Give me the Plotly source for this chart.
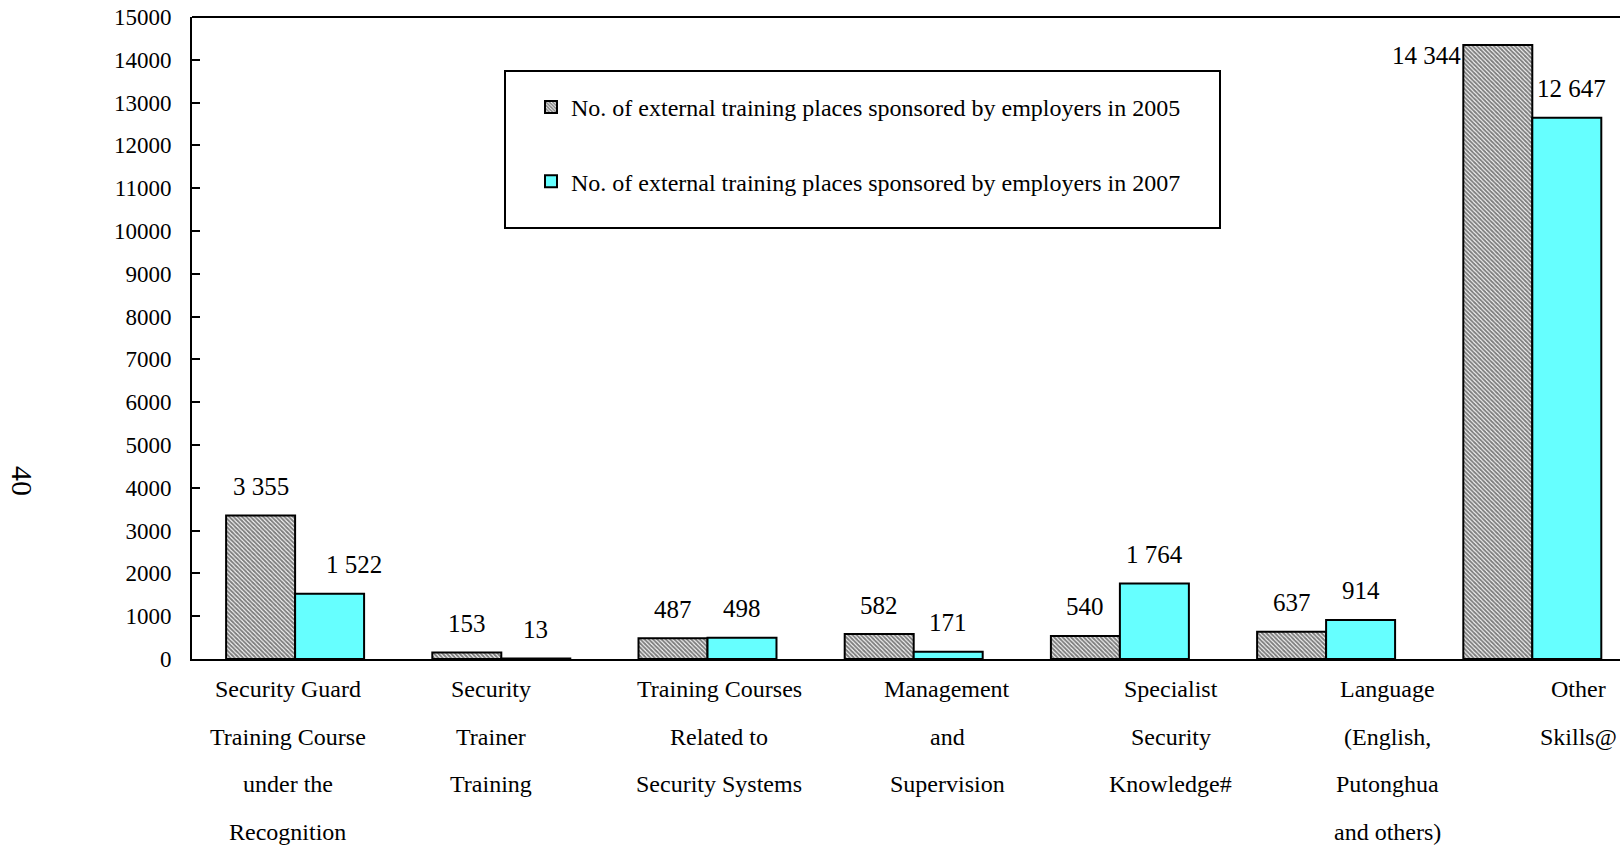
import plotly.graph_objects as go

# Category labels, one list of lines per course type
cat_lines = [
    ["Security Guard", "Training Course", "under the", "Recognition"],
    ["Security", "Trainer", "Training"],
    ["Training Courses", "Related to", "Security Systems"],
    ["Management", "and", "Supervision"],
    ["Specialist", "Security", "Knowledge#"],
    ["Language", "(English,", "Putonghua", "and others)"],
    ["Other", "Skills@"],
]
categories = [" ".join(lines) for lines in cat_lines]

places_2005 = [3355, 153, 487, 582, 540, 637, 14344]
places_2007 = [1522, 13, 498, 171, 1764, 914, 12647]

name_2005 = "No. of external training places sponsored by employers in 2005"
name_2007 = "No. of external training places sponsored by employers in 2007"

y_ticks = list(range(0, 15001, 1000))

# Layout constants
W, H = 1620, 847
ML, MR, MT, MB = 192, 0, 17, 188
FONT = "Liberation Serif"
CYAN = "#66ffff"
BAR_W = 0.3346            # width of one bar in category units
HALF = BAR_W / 2
label_offsets = [-0.035, -0.051, 0.056, 0.162, 0.246, 0.296, 0.222]
line_y_px = [689, 737, 784, 832]


def fmt(v):
    return f"{v:,}".replace(",", " ")


def paper_x(px):
    return (px - ML) / (W - ML - MR)


def paper_y(py):
    return (H - MB - py) / (H - MB - MT)


fig = go.Figure()
fig.add_trace(go.Bar(
    x=categories, y=places_2005, name=name_2005, legendgroup="a",
    marker=dict(color="white", line=dict(color="black", width=2),
                pattern=dict(shape="\\", fgcolor="black", bgcolor="white",
                             size=3, solidity=0.65)),
))
fig.add_trace(go.Bar(
    x=categories, y=places_2007, name=name_2007, legendgroup="b",
    marker=dict(color=CYAN, line=dict(color="black", width=2)),
))

annotations = []
# value labels above the bars
for i, (a, b) in enumerate(zip(places_2005, places_2007)):
    if i == len(places_2005) - 1:
        annotations.append(dict(x=i - BAR_W, y=a, xref="x", yref="y", text=fmt(a),
                                showarrow=False, xanchor="right", yanchor="middle",
                                yshift=-10, font=dict(size=25)))
    else:
        annotations.append(dict(x=i - HALF, y=a, xref="x", yref="y", text=fmt(a),
                                showarrow=False, xanchor="center", yanchor="middle",
                                yshift=29, font=dict(size=25)))
    xs = 24 if i == 0 else (5 if i == len(places_2007) - 1 else 0)
    annotations.append(dict(x=i + HALF, y=b, xref="x", yref="y", text=fmt(b),
                            showarrow=False, xanchor="center", yanchor="middle",
                            xshift=xs, yshift=29, font=dict(size=25)))

# multi-line category labels below the axis
for i, lines in enumerate(cat_lines):
    for j, line in enumerate(lines):
        annotations.append(dict(x=i + label_offsets[i], y=paper_y(line_y_px[j]),
                                xref="x", yref="paper", text=line, showarrow=False,
                                xanchor="center", yanchor="middle",
                                font=dict(size=24)))

# page number at the left margin
annotations.append(dict(xref="paper", yref="paper",
                        x=(23 - ML) / (W - ML - MR), y=paper_y(481),
                        xanchor="center", yanchor="middle", text="40",
                        textangle=90, showarrow=False, font=dict(size=30)))

shapes = [
    # top frame line
    dict(type="line", xref="paper", yref="paper", x0=0, x1=1, y0=1, y1=1,
         line=dict(color="black", width=2)),
    # legend box
    dict(type="rect", xref="paper", yref="paper",
         x0=paper_x(505), x1=paper_x(1220), y0=paper_y(228), y1=paper_y(71),
         line=dict(color="black", width=2), fillcolor="rgba(0,0,0,0)"),
]

fig.update_layout(
    width=W, height=H,
    margin=dict(l=ML, r=MR, t=MT, b=MB, pad=0),
    paper_bgcolor="white", plot_bgcolor="white",
    font=dict(family=FONT, color="black", size=24),
    barmode="group", bargap=1 - 2 * BAR_W, bargroupgap=0,
    showlegend=True,
    legend=dict(x=paper_x(531), y=paper_y(85), xanchor="left", yanchor="top",
                bgcolor="rgba(0,0,0,0)", borderwidth=0, font=dict(size=24),
                tracegroupgap=40, traceorder="grouped"),
    xaxis=dict(range=[-0.5, (W - ML - MR) / 206.2 - 0.5], showticklabels=False,
               ticks="", showline=True, linecolor="black", linewidth=2,
               showgrid=False, zeroline=False, fixedrange=True),
    yaxis=dict(range=[0, 15000], tickvals=y_ticks, ticktext=[str(v) for v in y_ticks],
               ticks="inside", ticklen=8, tickwidth=2, tickcolor="black",
               showline=True, linecolor="black", linewidth=2, showgrid=False,
               zeroline=False, tickfont=dict(size=23), ticklabelstandoff=14),
    annotations=annotations,
    shapes=shapes,
)

fig.write_html("out.html")
